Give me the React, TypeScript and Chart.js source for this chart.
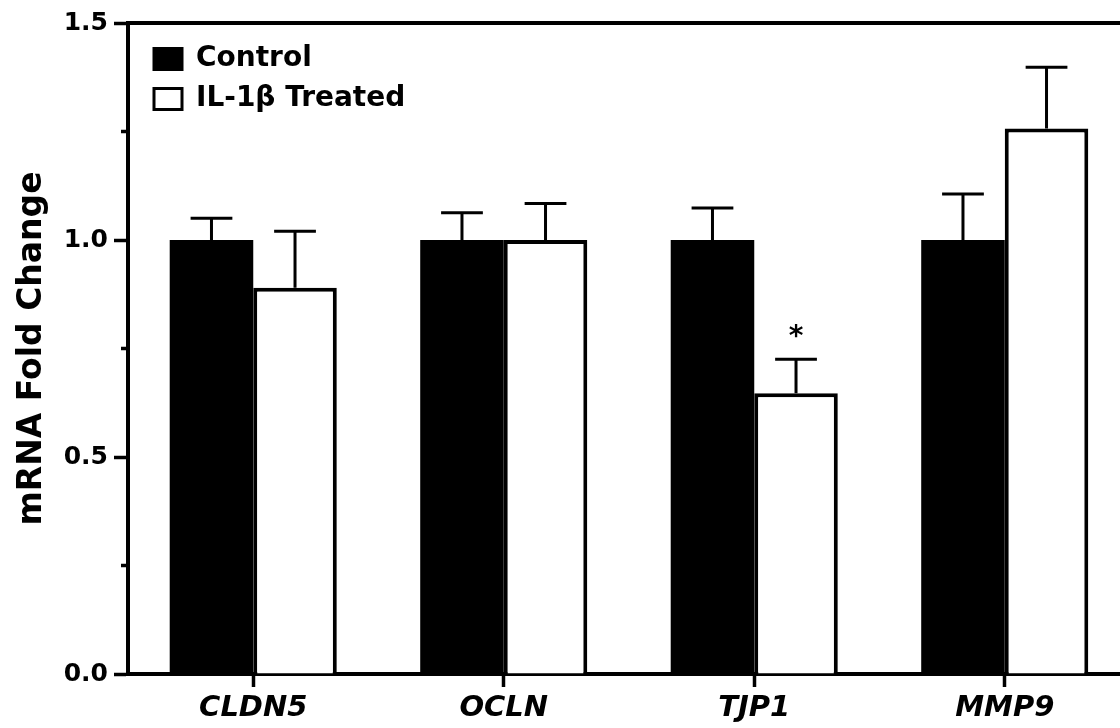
import React, { useEffect, useRef } from 'react';
import { Chart, registerables } from 'chart.js';

Chart.register(...registerables);

// ---- data ----
const categories = ['CLDN5', 'OCLN', 'TJP1', 'MMP9'];
const seriesNames = ['Control', 'IL-1β Treated'];
const controlMean = [1.0, 1.0, 1.0, 1.0];
const controlErr = [0.05, 0.063, 0.074, 0.106];
const treatedMean = [0.89, 1.0, 0.647, 1.257];
const treatedErr = [0.13, 0.084, 0.078, 0.141];
const treatedMarks = ['', '', '*', ''];
const yMin = 0;
const yMax = 1.5;
const yStep = 0.5;
const yTitle = 'mRNA Fold Change';

const FONT = 'DejaVu Sans';

const errorBarPlugin = {
  id: 'errorBars',
  afterDatasetsDraw(chart: any) {
    const { ctx } = chart;
    const yScale = chart.scales.y;
    chart.data.datasets.forEach((ds: any, i: number) => {
      const meta = chart.getDatasetMeta(i);
      meta.data.forEach((bar: any, j: number) => {
        const top = yScale.getPixelForValue(ds.data[j] + ds.errors[j]);
        const half = bar.width / 4;
        ctx.save();
        ctx.strokeStyle = '#000';
        ctx.lineWidth = 3;
        ctx.beginPath();
        ctx.moveTo(bar.x, bar.y);
        ctx.lineTo(bar.x, top);
        ctx.moveTo(bar.x - half, top);
        ctx.lineTo(bar.x + half, top);
        ctx.stroke();
        const mark = ds.marks ? ds.marks[j] : '';
        if (mark) {
          ctx.fillStyle = '#000';
          ctx.font = `bold 28px "${FONT}"`;
          ctx.textAlign = 'center';
          ctx.textBaseline = 'alphabetic';
          ctx.fillText(mark, bar.x, top - 14);
        }
        ctx.restore();
      });
    });
  },
};

const framePlugin = {
  id: 'frame',
  afterDraw(chart: any) {
    const { ctx, chartArea } = chart;
    const y = chart.scales.y;
    ctx.save();
    ctx.strokeStyle = '#000';
    ctx.lineWidth = 4;
    ctx.beginPath();
    ctx.moveTo(chartArea.left - 2, chartArea.top);
    ctx.lineTo(chartArea.right, chartArea.top);
    ctx.stroke();
    ctx.lineWidth = 3.5;
    const ticks = y.ticks;
    for (let k = 0; k < ticks.length - 1; k++) {
      const v = (ticks[k].value + ticks[k + 1].value) / 2;
      const py = y.getPixelForValue(v);
      ctx.beginPath();
      ctx.moveTo(chartArea.left - 7, py);
      ctx.lineTo(chartArea.left, py);
      ctx.stroke();
    }
    ctx.restore();
  },
};

const legendPlacePlugin = {
  id: 'legendPlace',
  afterLayout(chart: any) {
    const l = chart.legend;
    const a = chart.chartArea;
    if (l) {
      l.left = a.left + 14;
      l.top = a.top + 10;
      l.right = a.right;
      l.bottom = a.bottom;
    }
  },
};

export default function App() {
  const ref = useRef<HTMLCanvasElement>(null);
  useEffect(() => {
    const chart = new Chart(ref.current as HTMLCanvasElement, {
      type: 'bar',
      data: {
        labels: categories,
        datasets: [
          {
            label: seriesNames[0],
            data: controlMean,
            errors: controlErr,
            backgroundColor: '#000',
            borderColor: '#000',
            borderWidth: 0,
            categoryPercentage: 0.667,
            barPercentage: 1,
          } as any,
          {
            label: seriesNames[1],
            data: treatedMean,
            errors: treatedErr,
            marks: treatedMarks,
            backgroundColor: '#fff',
            borderColor: '#000',
            borderWidth: 4,
            categoryPercentage: 0.667,
            barPercentage: 1,
          } as any,
        ],
      },
      options: {
        responsive: false,
        animation: false,
        devicePixelRatio: 1,
        events: [],
        layout: { padding: { top: 23, left: 0, right: 0, bottom: 0 } },
        plugins: {
          tooltip: { enabled: false },
          legend: {
            position: 'chartArea' as any,
            align: 'start',
            labels: {
              color: '#000',
              boxWidth: 28,
              boxHeight: 21,
              padding: 12,
              font: { family: FONT, weight: 'bold', size: 28 },
              generateLabels: (c: any) => {
                const items = (Chart.defaults.plugins.legend.labels as any).generateLabels(c);
                items.forEach((it: any) => {
                  it.lineWidth = 3;
                  it.strokeStyle = '#000';
                });
                return items;
              },
            },
          },
        },
        scales: {
          x: {
            offset: true,
            grid: { offset: false, drawOnChartArea: false, tickLength: 13, tickWidth: 3.5, tickColor: '#000' },
            border: { display: true, width: 4, color: '#000' },
            ticks: {
              padding: 4,
              color: '#000',
              maxRotation: 0,
              font: { family: FONT, weight: 'bold', style: 'italic', size: 29 },
            },
            afterFit: (s: any) => {
              s.height = 54;
            },
          },
          y: {
            min: yMin,
            max: yMax,
            ticks: {
              stepSize: yStep,
              padding: 6,
              color: '#000',
              font: { family: FONT, weight: 'bold', size: 25 },
              callback: (v: any) => Number(v).toFixed(1),
            },
            grid: { drawOnChartArea: false, tickLength: 14, tickWidth: 3.5, tickColor: '#000' },
            border: { display: true, width: 4, color: '#000' },
            title: {
              display: true,
              text: yTitle,
              color: '#000',
              font: { family: FONT, weight: 'bold', size: 33 },
              padding: { top: 13, bottom: 0 },
            },
            afterFit: (s: any) => {
              s.width = 128;
            },
          },
        },
      } as any,
      plugins: [errorBarPlugin, framePlugin, legendPlacePlugin],
    });
    return () => chart.destroy();
  }, []);

  return (
    <div
      style={{
        position: 'fixed',
        left: 0,
        top: 0,
        width: 1120,
        height: 728,
        overflow: 'hidden',
        background: '#fff',
      }}
    >
      <canvas ref={ref} width={1130} height={728} style={{ display: 'block', width: 1130, height: 728 }} />
    </div>
  );
}
